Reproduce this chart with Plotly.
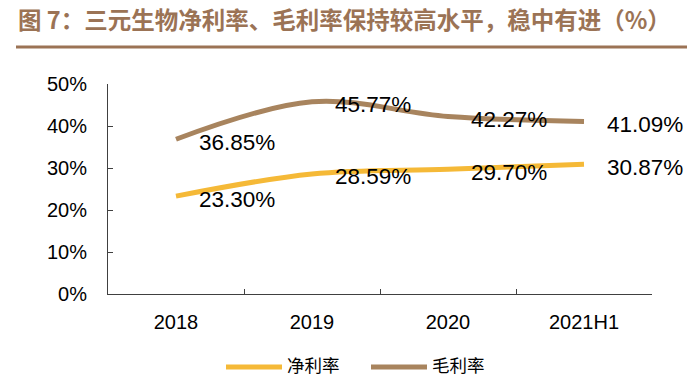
import plotly.graph_objects as go

categories = ["2018", "2019", "2020", "2021H1"]
net_margin = [23.30, 28.59, 29.70, 30.87]
gross_margin = [36.85, 45.77, 42.27, 41.09]
y_ticks = [0, 10, 20, 30, 40, 50]
series_names = ["净利率", "毛利率"]

GOLD = "#F5B937"
BROWN = "#A8845E"
TITLE_C = "#9B7355"
W, H = 687, 377
L, R, T, B = 108, 35, 84, 83
pw = W - L - R
ph = H - T - B

def px_x(p):
    return (p - L) / pw

def px_y(p):
    return (H - B - p) / ph

fig = go.Figure()
fig.add_trace(go.Scatter(x=categories, y=net_margin, mode="lines", name=series_names[0],
                         showlegend=False,
                         line=dict(color=GOLD, width=5, shape="spline", smoothing=1)))
fig.add_trace(go.Scatter(x=categories, y=gross_margin, mode="lines", name=series_names[1],
                         showlegend=False,
                         line=dict(color=BROWN, width=5, shape="spline", smoothing=1)))

annotations = []
for vals in (net_margin, gross_margin):
    for i, v in enumerate(vals):
        annotations.append(dict(x=i, y=v, xref="x", yref="y", text=f"{v:.2f}%",
                                showarrow=False, xanchor="left", yanchor="middle",
                                xshift=21, yshift=-3,
                                font=dict(family="Liberation Sans, Arial", size=22.5, color="#000000")))

# manual legend
shapes = [dict(type="line", xref="paper", yref="paper",
               x0=px_x(16), x1=px_x(687), y0=px_y(47), y1=px_y(47),
               line=dict(color=TITLE_C, width=3))]
legend_items = [(series_names[0], GOLD, 226), (series_names[1], BROWN, 371)]
for name, color, x0 in legend_items:
    shapes.append(dict(type="line", xref="paper", yref="paper",
                       x0=px_x(x0), x1=px_x(x0 + 56), y0=px_y(367), y1=px_y(367),
                       line=dict(color=color, width=5)))
    annotations.append(dict(x=px_x(x0 + 60), y=px_y(364), xref="paper", yref="paper",
                            text=name, showarrow=False, xanchor="left", yanchor="middle",
                            borderpad=0,
                            font=dict(family="Noto Sans CJK SC", size=17.5, color="#000000")))

fig.update_layout(
    width=W, height=H,
    margin=dict(l=L, r=R, t=T, b=B, autoexpand=False),
    paper_bgcolor="white", plot_bgcolor="white",
    showlegend=False,
    title=dict(text="<b>图 7：三元生物净利率、毛利率保持较高水平，稳中有进（%）</b>",
               x=18 / W, xanchor="left", y=1 - 21 / H, yanchor="middle",
               font=dict(family="Noto Sans CJK SC", size=23.5, color=TITLE_C)),
    xaxis=dict(type="category", range=[-0.5, len(categories) - 0.5],
               showline=True, linecolor="#404040", linewidth=1,
               ticks="inside", tickson="boundaries", ticklen=5, tickcolor="#404040",
               showgrid=False, zeroline=False, tickangle=0, automargin=False,
               ticklabelstandoff=10,
               tickfont=dict(family="Liberation Sans, Arial", size=20, color="#000000")),
    yaxis=dict(range=[0, 50], tickvals=y_ticks, ticktext=[f"{t}%" for t in y_ticks],
               showline=True, linecolor="#404040", linewidth=1,
               ticks="inside", ticklen=5, tickcolor="#404040",
               showgrid=False, zeroline=False, automargin=False,
               ticklabelstandoff=16,
               tickfont=dict(family="Liberation Sans, Arial", size=20, color="#000000")),
    annotations=annotations,
    shapes=shapes,
)

fig.write_html("out.html", config={"displayModeBar": False},
               post_script="document.body.style.margin='0';document.body.style.padding='0';")
